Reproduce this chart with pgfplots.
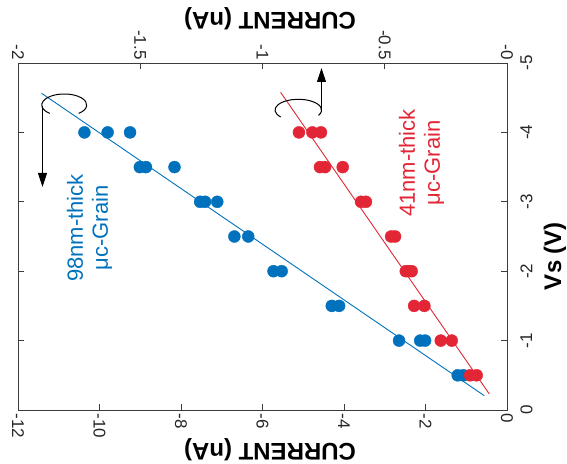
\documentclass[border=0pt]{standalone}
\usepackage{fontspec}
\setmainfont{Liberation Sans}
\usepackage{pgfplots}
\pgfplotsset{compat=1.18}
\usetikzlibrary{arrows.meta}
\definecolor{mblue}{RGB}{0,114,189}
\definecolor{mred}{RGB}{227,38,54}
\definecolor{framec}{RGB}{60,60,60}
\newcommand{\tickfont}{\fontsize{17bp}{20bp}\selectfont}
\newcommand{\labfont}{\fontsize{24bp}{28bp}\selectfont\bfseries}
\newcommand{\annfont}{\fontsize{22bp}{25bp}\selectfont}
\begin{document}
\begin{tikzpicture}[x=1bp,y=1bp]
\useasboundingbox (0,0) rectangle (567,464);
\begin{axis}[
  at={(18bp,54bp)}, anchor=south west, scale only axis,
  width=489bp, height=347bp,
  xmin=-12, xmax=0, ymin=-5, ymax=0, y dir=reverse,
  axis line style={framec, line width=0.7bp},
  tick style={framec, line width=0.7bp},
  tick align=inside, major tick length=6bp,
  xtick={-12,-10,-8,-6,-4,-2,0},
  xticklabels={-12,-10,-8,-6,-4,-2,0},
  xtick pos=bottom,
  ytick={-5,-4,-3,-2,-1,0},
  yticklabels={-5,-4,-3,-2,-1,0},
  ytick pos=both, yticklabel pos=right,
  xticklabel style={rotate=-90, anchor=west, font=\tickfont, text=black!85},
  yticklabel style={rotate=90, anchor=north, font=\tickfont, text=black!85},
  yticklabel shift=10bp,
]
\addplot[mblue, line width=0.9bp] coordinates {(-11.42,-4.563) (-0.557,-0.206)};
\addplot[only marks, mark=*, mark size=6bp, mark options={fill=mblue, draw=mblue}] coordinates {
(-10.37,-4) (-9.80,-4) (-9.25,-4)
(-9.01,-3.5) (-8.86,-3.5) (-8.16,-3.5)
(-7.53,-3) (-7.41,-3) (-7.11,-3)
(-6.69,-2.5) (-6.35,-2.5)
(-5.73,-2) (-5.53,-2)
(-4.30,-1.5) (-4.12,-1.5)
(-2.65,-1) (-2.13,-1) (-2.01,-1)
(-1.21,-0.5) (-1.07,-0.5)
};
\end{axis}
\begin{axis}[
  at={(18bp,54bp)}, anchor=south west, scale only axis,
  width=489bp, height=347bp,
  xmin=-2, xmax=0, ymin=-5, ymax=0, y dir=reverse,
  axis x line*=top, axis y line=none,
  axis line style={framec, line width=0.7bp},
  tick style={framec, line width=0.7bp},
  tick align=inside, major tick length=6bp,
  xtick={-2,-1.5,-1,-0.5,0},
  xticklabels={-2,-1.5,-1,-0.5,-0},
  xticklabel style={rotate=-90, anchor=east, font=\tickfont, text=black!85},
]
\addplot[mred, line width=0.9bp] coordinates {(-0.926,-4.578) (-0.0724,-0.231)};
\addplot[only marks, mark=*, mark size=6bp, mark options={fill=mred, draw=mred}] coordinates {
(-0.851,-4) (-0.796,-4) (-0.761,-4)
(-0.765,-3.5) (-0.744,-3.5) (-0.672,-3.5)
(-0.597,-3) (-0.577,-3)
(-0.474,-2.5) (-0.458,-2.5)
(-0.414,-2) (-0.402,-2) (-0.390,-2)
(-0.380,-1.5) (-0.338,-1.5)
(-0.271,-1) (-0.226,-1)
(-0.151,-0.5) (-0.124,-0.5)
};
\end{axis}
% annotations
\draw[black, line width=1bp] (78.7,350.6) arc[start angle=-50, end angle=230, x radius=22.5, y radius=11];
\draw[black, line width=1bp, -{Triangle[length=14bp,width=9bp]}] (42.5,358) -- (42.5,277);
\draw[black, line width=1bp] (318.5,348.65) arc[start angle=-30, end angle=221, x radius=23.3, y radius=10.7];
\draw[black, line width=1bp, -{Triangle[length=14bp,width=9bp]}] (321.5,354) -- (321.5,396);
% texts
\node[rotate=90, align=center, text=mblue, font=\annfont] at (89.5,236) {98nm-thick\\μc-Grain};
\node[rotate=90, align=center, text=mred, font=\annfont] at (421.5,301) {41nm-thick\\μc-Grain};
\node[rotate=180, font=\labfont, inner sep=0pt] at (270,14) {CURRENT (nA)};
\node[rotate=180, font=\labfont, inner sep=0pt] at (270,445) {CURRENT (nA)};
\node[rotate=90, font=\labfont, inner sep=0pt] at (555,208) {Vs (V)};
\end{tikzpicture}
\end{document}
